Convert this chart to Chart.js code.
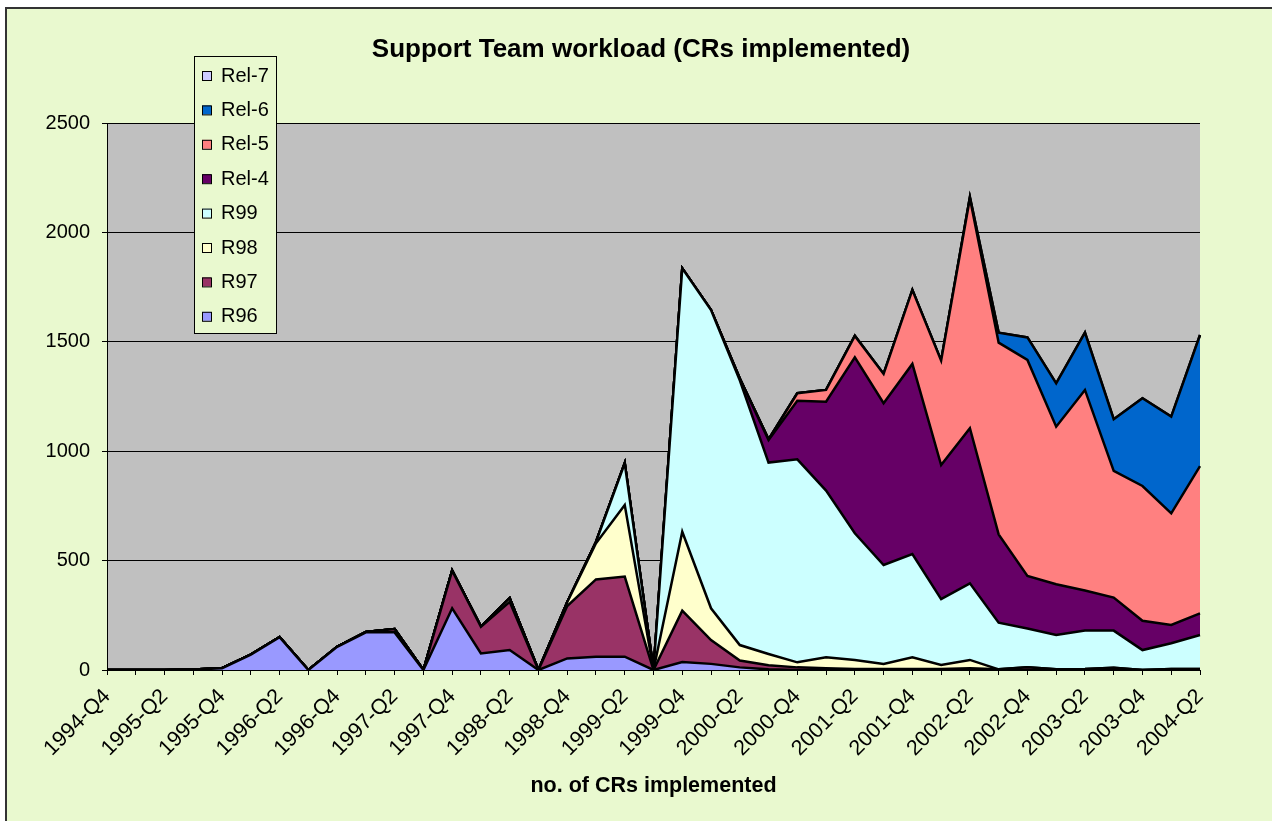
<!DOCTYPE html>
<html>
<head>
<meta charset="utf-8">
<script src="https://cdn.jsdelivr.net/npm/chart.js@4.4.0/dist/chart.umd.min.js"></script>
<style>
html, body { margin: 0; padding: 0; background: #fff; }
#wrap { width: 1272px; height: 821px; }
</style>
</head>
<body>
<div id="wrap"><canvas id="workloadChart" width="1272" height="821"></canvas></div>
<script>
const quarters = [
    '1994-Q4', '1995-Q1', '1995-Q2', '1995-Q3', '1995-Q4', '1996-Q1', '1996-Q2', '1996-Q3',
    '1996-Q4', '1997-Q1', '1997-Q2', '1997-Q3', '1997-Q4', '1998-Q1', '1998-Q2', '1998-Q3',
    '1998-Q4', '1999-Q1', '1999-Q2', '1999-Q3', '1999-Q4', '2000-Q1', '2000-Q2', '2000-Q3',
    '2000-Q4', '2001-Q1', '2001-Q2', '2001-Q3', '2001-Q4', '2002-Q1', '2002-Q2', '2002-Q3',
    '2002-Q4', '2003-Q1', '2003-Q2', '2003-Q3', '2003-Q4', '2004-Q1', '2004-Q2'
];

// CRs per release, per quarter (stacked bottom to top)
const r96  = [0,0,0,2,8,70,150,0,106,172,172,0,282,76,91,0,53,61,61,0,36,28,12,3,0,0,0,0,0,0,0,0,0,0,0,0,0,0,0];
const r97  = [0,0,0,0,0,0,0,0,0,2,15,0,172,122,221,0,239,353,366,0,235,109,31,19,12,8,5,4,5,5,8,3,12,3,5,10,0,5,5];
const r98  = [0,0,0,0,0,0,0,0,0,0,0,0,0,0,16,0,18,165,327,0,361,145,71,51,23,50,41,24,53,18,38,0,0,0,0,0,0,0,0];
const r99  = [0,0,0,0,0,0,0,0,0,0,0,0,0,0,0,0,0,6,191,0,1204,1363,1210,875,928,762,579,452,472,301,350,213,178,157,175,170,91,117,155];
const rel4 = [0,0,0,0,0,0,0,0,0,0,0,0,0,0,0,0,0,0,0,0,0,0,8,103,268,406,804,739,869,613,709,404,240,232,183,151,134,84,99];
const rel5 = [0,0,0,0,0,0,0,0,0,0,0,0,0,0,0,0,0,0,0,0,0,0,0,3,34,54,98,134,338,477,1051,876,987,720,917,579,616,510,673];
const rel6 = [0,0,0,0,0,0,0,0,0,0,0,0,0,0,0,0,0,0,0,0,0,0,0,0,0,0,0,0,0,0,5,46,103,198,262,236,401,442,599];
const rel7 = [0,0,0,0,0,0,0,0,0,0,0,0,0,0,0,0,0,0,0,0,0,0,0,0,0,0,0,0,0,0,0,0,0,0,0,0,0,0,0];

const seriesNames = ['R96', 'R97', 'R98', 'R99', 'Rel-4', 'Rel-5', 'Rel-6', 'Rel-7'];
const seriesData = [r96, r97, r98, r99, rel4, rel5, rel6, rel7];
const seriesColors = ['#9999FF', '#993366', '#FFFFCC', '#CCFFFF', '#660066', '#FF8080', '#0066CC', '#CCCCFF'];

const yTicks = [0, 500, 1000, 1500, 2000, 2500];

const FONT = '"Liberation Sans", Arial, sans-serif';

// background, outer frame and grey plot area
const backdrop = {
    id: 'backdrop',
    beforeDraw(chart) {
        const { ctx, chartArea } = chart;
        ctx.save();
        ctx.fillStyle = '#ffffff';
        ctx.fillRect(0, 0, chart.width, chart.height);
        ctx.fillStyle = '#E9F9CF';
        ctx.fillRect(6, 8, chart.width - 6, chart.height - 8);
        ctx.strokeStyle = '#333333';
        ctx.lineWidth = 2;
        ctx.beginPath();
        ctx.moveTo(6, chart.height);
        ctx.lineTo(6, 8);
        ctx.lineTo(chart.width, 8);
        ctx.stroke();
        ctx.fillStyle = '#C0C0C0';
        ctx.fillRect(chartArea.left, chartArea.top, chartArea.right - chartArea.left, chartArea.bottom - chartArea.top);
        ctx.restore();
    }
};

// titles and the boxed legend on top of the plot
const overlay = {
    id: 'overlay',
    afterDraw(chart) {
        const { ctx, chartArea } = chart;
        ctx.save();
        ctx.fillStyle = '#000';
        ctx.textAlign = 'center';
        ctx.textBaseline = 'middle';
        ctx.font = 'bold 26px ' + FONT;
        ctx.fillText('Support Team workload (CRs implemented)', 641, 50);
        ctx.font = 'bold 21.5px ' + FONT;
        ctx.fillText('no. of CRs implemented', (chartArea.left + chartArea.right) / 2, 786);

        // legend
        const lx = 194, ly = 56, lw = 82, lh = 277;
        ctx.fillStyle = '#E9F9CF';
        ctx.fillRect(lx, ly, lw, lh);
        ctx.strokeStyle = '#000';
        ctx.lineWidth = 1;
        ctx.strokeRect(lx + 0.5, ly + 0.5, lw, lh);
        ctx.font = '20px ' + FONT;
        ctx.textAlign = 'left';
        const items = chart.data.datasets.slice().reverse();
        items.forEach((ds, i) => {
            const cy = 75 + i * 34.4;
            ctx.fillStyle = ds.backgroundColor;
            ctx.fillRect(202, cy - 4, 9, 9);
            ctx.strokeStyle = '#000';
            ctx.strokeRect(202.5, cy - 3.5, 9, 9);
            ctx.fillStyle = '#000';
            ctx.fillText(ds.label, 221, cy + 1);
        });
        ctx.restore();
    }
};

const ctx = document.getElementById('workloadChart');
new Chart(ctx, {
    type: 'line',
    data: {
        labels: quarters,
        datasets: seriesNames.map((name, i) => ({
            label: name,
            data: seriesData[i],
            backgroundColor: seriesColors[i],
            borderColor: '#000000',
            borderWidth: 2.5,
            fill: i === 0 ? 'origin' : '-1',
            pointRadius: 0,
            tension: 0
        }))
    },
    options: {
        responsive: false,
        animation: false,
        layout: { padding: { left: 0, right: 72, top: 123, bottom: 0 } },
        plugins: {
            legend: { display: false },
            title: { display: false },
            tooltip: { enabled: false }
        },
        scales: {
            x: {
                offset: false,
                grid: { drawOnChartArea: false, color: '#000', tickLength: 5 },
                border: { color: '#000', width: 1 },
                ticks: {
                    autoSkip: false,
                    maxRotation: 45,
                    minRotation: 45,
                    color: '#000',
                    font: { family: FONT, size: 21.5 },
                    padding: 9,
                    callback: (v, i) => (i % 2 === 0 ? quarters[i] : '')
                },
                afterFit: (scale) => { scale.height = 151; }
            },
            y: {
                stacked: true,
                min: yTicks[0],
                max: yTicks[yTicks.length - 1],
                afterBuildTicks: (scale) => { scale.ticks = yTicks.map(v => ({ value: v })); },
                grid: { color: '#000', lineWidth: 1, tickLength: 5 },
                border: { color: '#000', width: 1 },
                ticks: {
                    color: '#000',
                    font: { family: FONT, size: 20 },
                    padding: 12,
                    callback: (v) => String(v)
                },
                afterFit: (scale) => { scale.width = 107; }
            }
        }
    },
    plugins: [backdrop, overlay]
});
</script>
</body>
</html>
